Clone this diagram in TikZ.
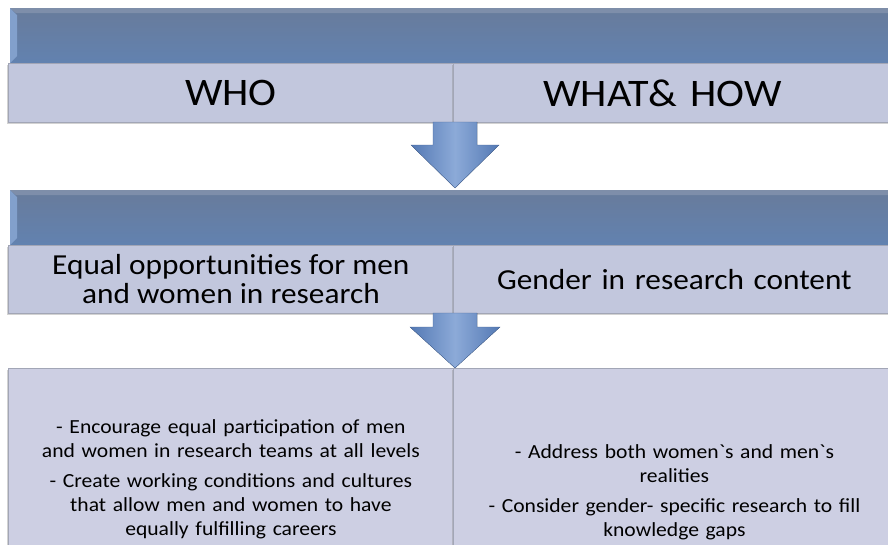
\documentclass[tikz,border=0pt]{standalone}
\usepackage{fontspec}
\setmainfont{Carlito}[FakeStretch=1.08]
\usetikzlibrary{shadows}
\newcommand\grv{{\addfontfeatures{Ligatures=TeXOff}`}}
\definecolor{barTop}{HTML}{687B9B}
\definecolor{barBot}{HTML}{6282B0}
\definecolor{bevel}{HTML}{82A0CC}
\definecolor{cellA}{HTML}{C2C7DD}
\definecolor{cellB}{HTML}{CDCFE3}
\definecolor{edgeC}{HTML}{A2A6B6}
\definecolor{arrA}{HTML}{5479B4}
\definecolor{arrB}{HTML}{8CAAD8}
\begin{document}
\begin{tikzpicture}[x=1pt,y=-1pt,
  bar/.style={anchor=north west,top color=barTop,bottom color=barBot,draw=none,
    minimum width=890pt,minimum height=55pt,inner sep=0pt},
  cell/.style={anchor=north west,fill=cellA,draw=edgeC,line width=0.8pt,inner sep=0pt,
    align=center,drop shadow={shadow xshift=-1.5pt,shadow yshift=-1.5pt,opacity=0.35}},
  lowcell/.style={cell,fill=cellB},
  bigtxt/.style={font=\fontsize{39}{44}\selectfont},
  midtxt/.style={font=\fontsize{29}{29}\selectfont},
  smalltxt/.style={font=\fontsize{20}{24}\selectfont},
  blockarrow/.style={left color=arrA,right color=arrA,middle color=arrB,draw=arrA!85!black,line width=0.3pt}
]
\clip (0,0) rectangle (888,544);
\fill[white] (0,0) rectangle (888,544);

% ---- top section
\node[bar] (bar1) at (10,8) {};
\fill[bevel] (10,8) -- (17,15) -- (17,56) -- (10,63) -- cycle;
\fill[white,opacity=0.15] (10,8) -- (900,8) -- (900,13) -- (16,13) -- cycle;
\node[cell,minimum width=445pt,minimum height=59pt,bigtxt] (who) at (8,63) {WHO};
\node[cell,minimum width=442pt,minimum height=59pt,bigtxt,text width=420pt] (what) at (453,63) {\hspace*{-24pt}WHAT\& HOW};

% ---- arrow 1
\path (453,122) coordinate (a1top) (453,188) coordinate (a1tip);
\filldraw[blockarrow] ([xshift=-20pt]a1top) -- ([xshift=24pt]a1top) -- ([xshift=24pt,yshift=-23pt]a1top)
  -- ([xshift=46pt,yshift=-23pt]a1top) -- ([xshift=2pt]a1tip) -- ([xshift=-42pt,yshift=-23pt]a1top)
  -- ([xshift=-20pt,yshift=-23pt]a1top) -- cycle;

% ---- middle section
\node[bar] (bar2) at (10,190) {};
\fill[bevel] (10,190) -- (17,197) -- (17,238) -- (10,245) -- cycle;
\fill[white,opacity=0.15] (10,190) -- (900,190) -- (900,195) -- (16,195) -- cycle;
\node[cell,minimum width=445pt,minimum height=68pt,midtxt] (equal) at (8,245)
  {Equal opportunities for men\\and women in research};
\node[cell,minimum width=442pt,minimum height=68pt,midtxt,text width=430pt] (gender) at (453,245)
  {Gender in research content};

% ---- arrow 2
\path (453,313) coordinate (a2top) (453,368) coordinate (a2tip);
\filldraw[blockarrow] ([xshift=-20pt]a2top) -- ([xshift=24pt]a2top) -- ([xshift=24pt,yshift=-14pt]a2top)
  -- ([xshift=47pt,yshift=-14pt]a2top) -- ([xshift=2pt]a2tip) -- ([xshift=-43pt,yshift=-14pt]a2top)
  -- ([xshift=-20pt,yshift=-14pt]a2top) -- cycle;

% ---- bottom section
\node[lowcell,minimum width=445pt,minimum height=222pt,smalltxt,text width=436pt] (who2) at (8,368)
  {- Encourage equal participation of men\\and women in research teams at all levels\\[6pt]
   - Create working conditions and cultures\\that allow men and women to have\\equally fulfilling careers};
\node[lowcell,minimum width=442pt,minimum height=248pt,smalltxt,text width=436pt] (what2) at (453,368)
  {- Address both women\grv s and men\grv s\\realities\\[6pt]
   - Consider gender- specific research to fill\\knowledge gaps};
\end{tikzpicture}
\end{document}
